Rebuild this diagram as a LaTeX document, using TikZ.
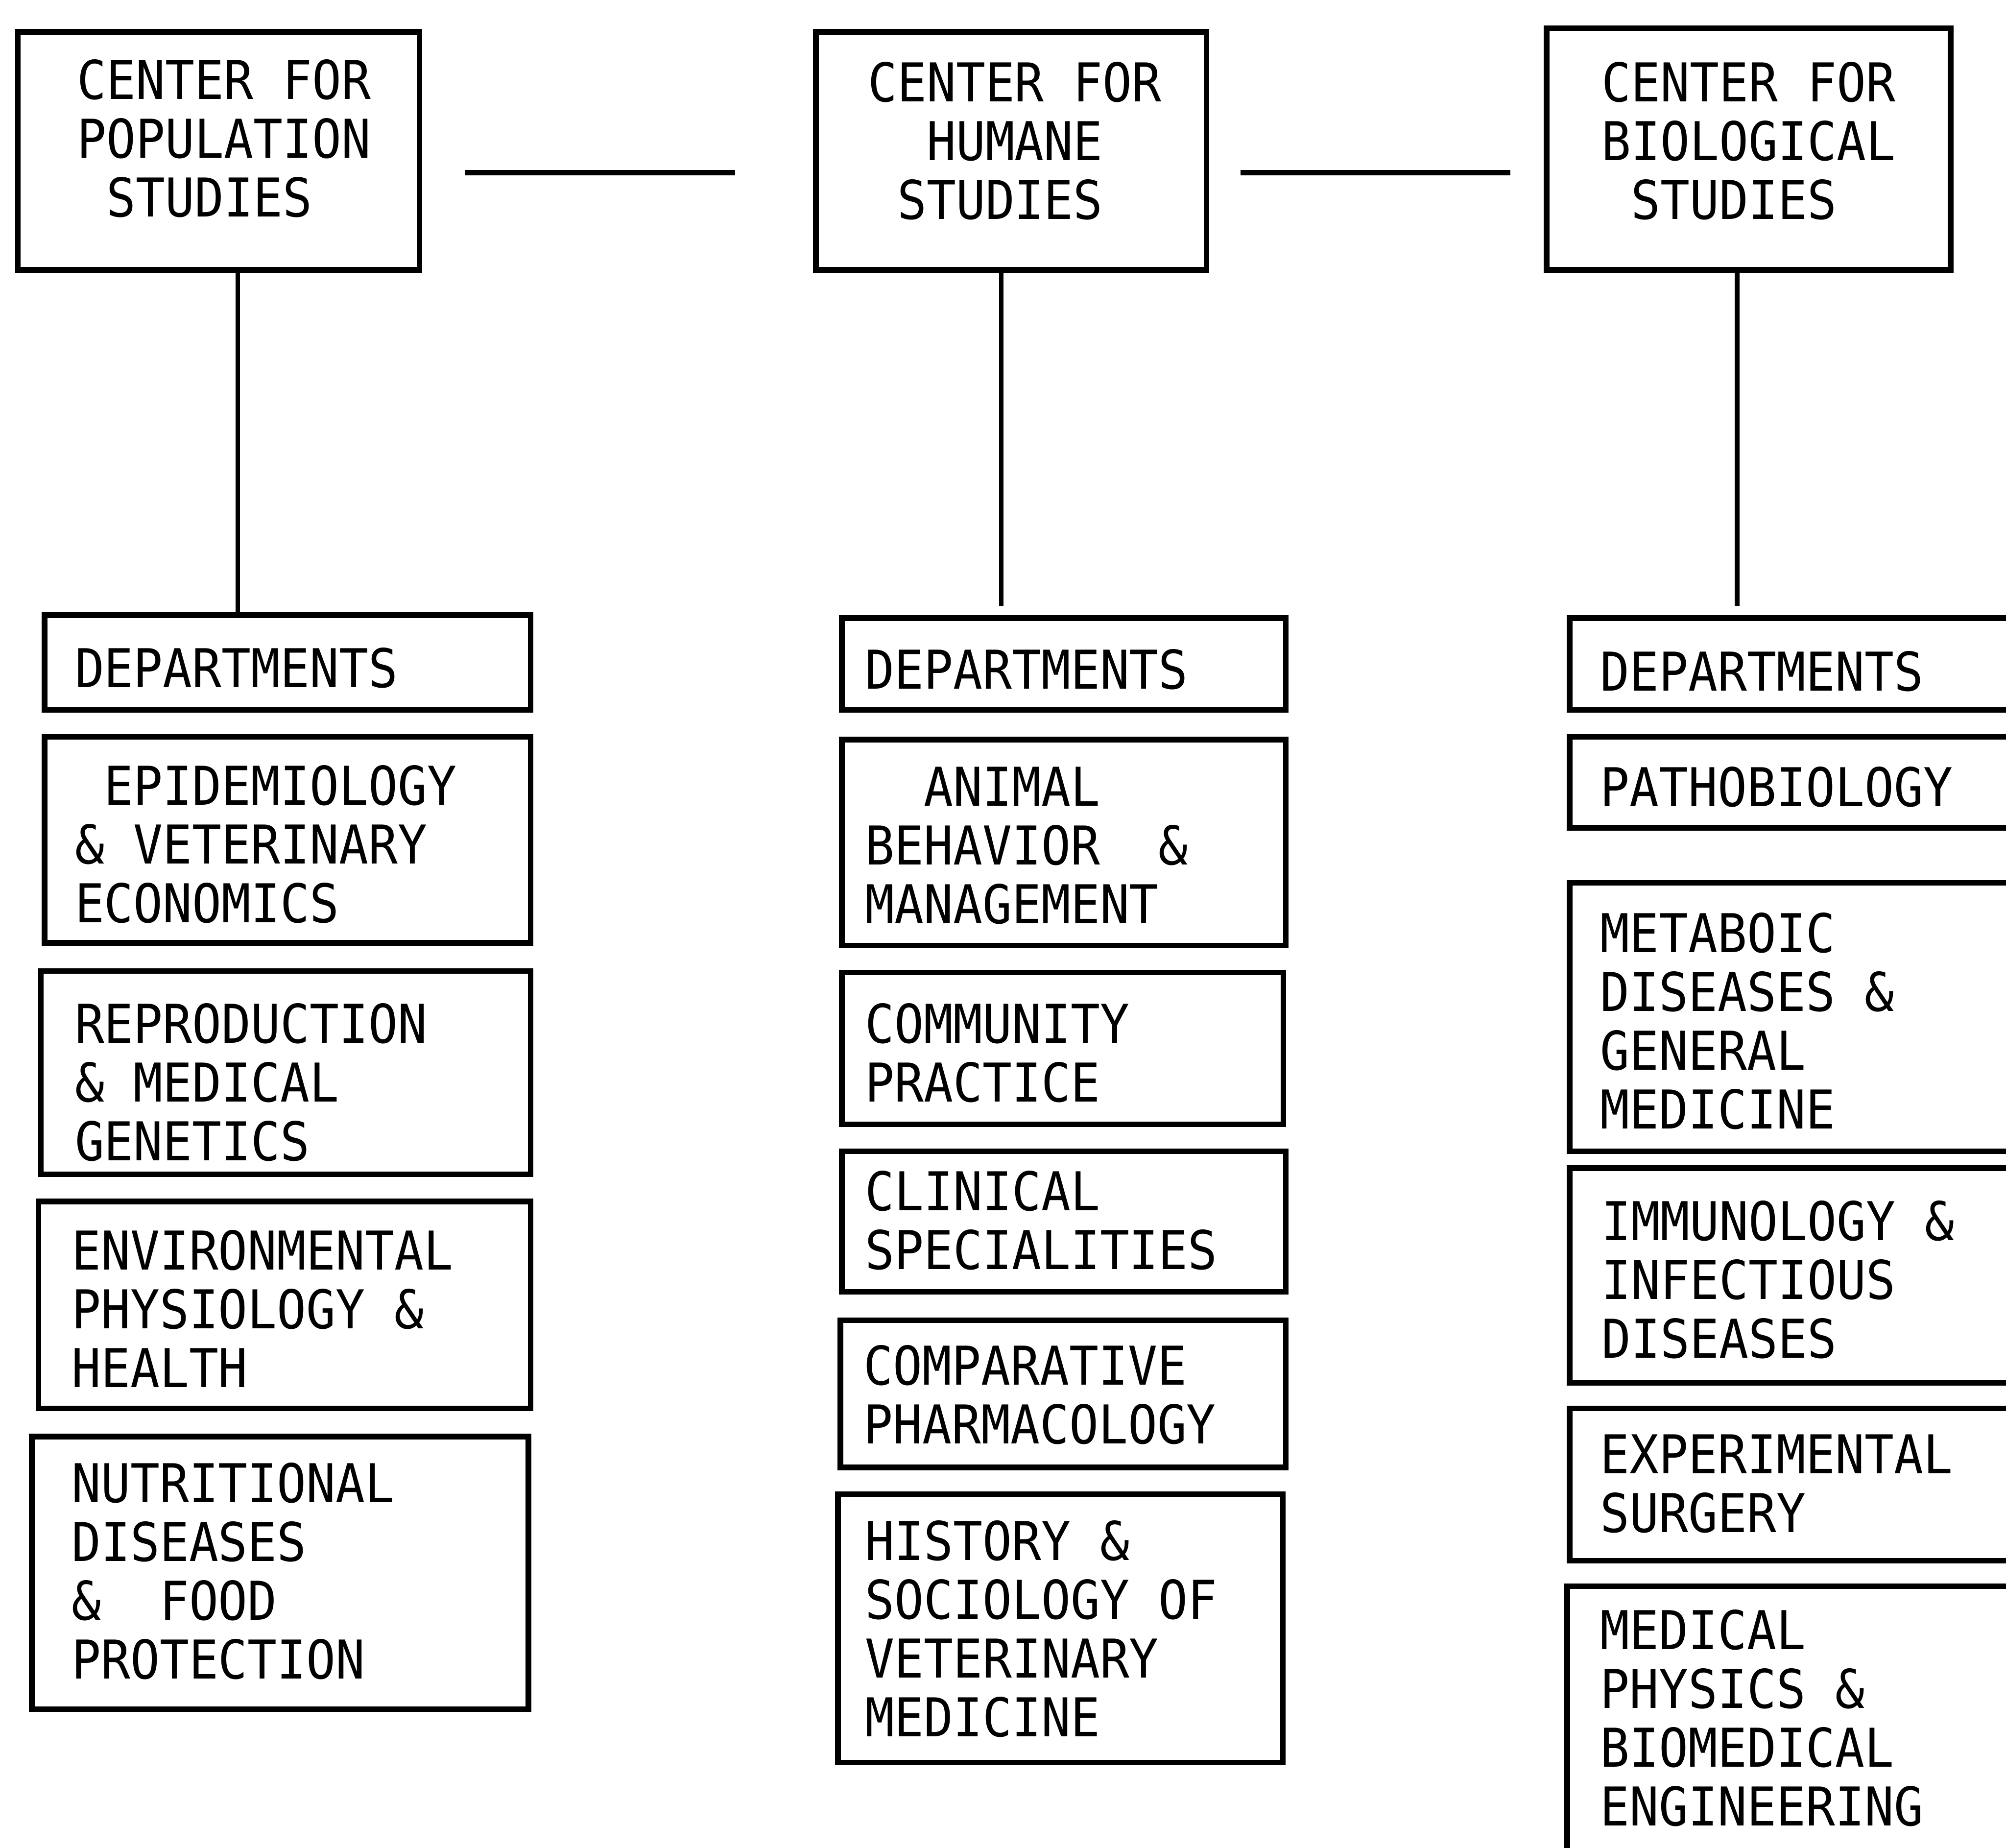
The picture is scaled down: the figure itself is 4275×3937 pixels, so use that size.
\documentclass[tikz,border=0pt]{standalone}
\usepackage{fontspec}
\newfontfamily\monofam[FakeStretch=0.912]{DejaVu Sans Mono}
\newcommand\lsp{\phantom{X}}
\tikzset{
  dbox/.style={draw, line width=3.4pt, rectangle, inner sep=0pt},
  lbl/.style={anchor=west, align=left, inner sep=0pt,
    font=\monofam\fontsize{32.4pt}{35.6pt}\selectfont},
  conn/.style={line width=2.8pt},
}
% name, x1, y1, x2, y2, text x, text y, text
\newcommand\mkbox[8]{%
  \pgfmathsetmacro\mybw{(#4-#2)*0.01}%
  \pgfmathsetmacro\mybh{(#5-#3)*0.01}%
  \node[dbox, minimum width=\mybw cm, minimum height=\mybh cm] (#1) at ({(#2+#4)/2},{(#3+#5)/2}) {};
  \node[lbl] (#1-t) at (#6,#7) {#8};
}
\begin{document}
\begin{tikzpicture}[x=0.01cm, y=-0.01cm]
\useasboundingbox (0,0) rectangle (4275,3937);
\clip (0,0) rectangle (4275,3937);

% top centres
\mkbox{pop}{38}{68}{894}{575}{164}{295}{CENTER FOR\\POPULATION\\\lsp STUDIES}
\mkbox{hum}{1739}{68}{2571}{575}{1849}{300}{CENTER FOR\\\lsp\lsp HUMANE\\\lsp STUDIES}
\mkbox{bio}{3296}{60}{4157}{575}{3413}{300}{CENTER FOR\\BIOLOGICAL\\\lsp STUDIES}

% horizontal links
\coordinate (h1a) at (990,368);
\coordinate (h1b) at (1567,368);
\coordinate (h2a) at (2644,368);
\coordinate (h2b) at (3219,368);
\draw[conn, line width=3.4pt] (h1a) -- (h1b);
\draw[conn, line width=3.4pt] (h2a) -- (h2b);

% population column
\mkbox{popd}{95}{1311}{1131}{1513}{159}{1423}{DEPARTMENTS}
\mkbox{epi}{95}{1570}{1131}{2009}{159}{1799}{\lsp EPIDEMIOLOGY\\\& VETERINARY\\ECONOMICS}
\mkbox{rep}{87}{2069}{1131}{2502}{159}{2306}{REPRODUCTION\\\& MEDICAL\\GENETICS}
\mkbox{env}{82}{2560}{1131}{3001}{152}{2789}{ENVIRONMENTAL\\PHYSIOLOGY \&\\HEALTH}
\mkbox{nut}{68}{3061}{1126}{3642}{152}{3348}{NUTRITIONAL\\DISEASES\\\&\lsp{} FOOD\\PROTECTION}

% humane column
\mkbox{humd}{1794}{1317}{2740}{1513}{1843}{1426}{DEPARTMENTS}
\mkbox{ani}{1794}{1576}{2740}{2015}{1843}{1802}{\lsp\lsp ANIMAL\\BEHAVIOR\lsp{} \&\\MANAGEMENT}
\mkbox{com}{1794}{2072}{2735}{2396}{1843}{2244}{COMMUNITY\\PRACTICE}
\mkbox{cli}{1794}{2453}{2740}{2753}{1843}{2601}{CLINICAL\\SPECIALITIES}
\mkbox{cmp}{1791}{2813}{2740}{3127}{1840}{2972}{COMPARATIVE\\PHARMACOLOGY}
\mkbox{his}{1786}{3184}{2734}{3756}{1843}{3471}{HISTORY \&\\SOCIOLOGY OF\\VETERINARY\\MEDICINE}

% biological column
\mkbox{biod}{3345}{1317}{4400}{1513}{3410}{1431}{DEPARTMENTS}
\mkbox{path}{3345}{1570}{4400}{1764}{3410}{1677}{PATHOBIOLOGY}
\mkbox{met}{3345}{1881}{4400}{2453}{3410}{2176}{METABOIC\\DISEASES \&\\GENERAL\\MEDICINE}
\mkbox{imm}{3345}{2489}{4400}{2947}{3413}{2727}{IMMUNOLOGY \&\\INFECTIOUS\\DISEASES}
\mkbox{exp}{3345}{3001}{4400}{3326}{3410}{3162}{EXPERIMENTAL\\SURGERY}
\mkbox{mph}{3340}{3380}{4400}{4050}{3410}{3661}{MEDICAL\\PHYSICS \&\\BIOMEDICAL\\ENGINEERING}

% vertical links
\coordinate (pv) at (507,0);
\coordinate (hv) at (2134,0);
\coordinate (bv) at (3702,0);
\draw[conn] (pv |- pop.south) -- (pv |- popd.north);
\draw[conn] (hv |- hum.south) -- ([yshift=0.2cm]hv |- humd.north);
\draw[conn] (bv |- bio.south) -- ([yshift=0.2cm]bv |- biod.north);
\end{tikzpicture}
\end{document}
